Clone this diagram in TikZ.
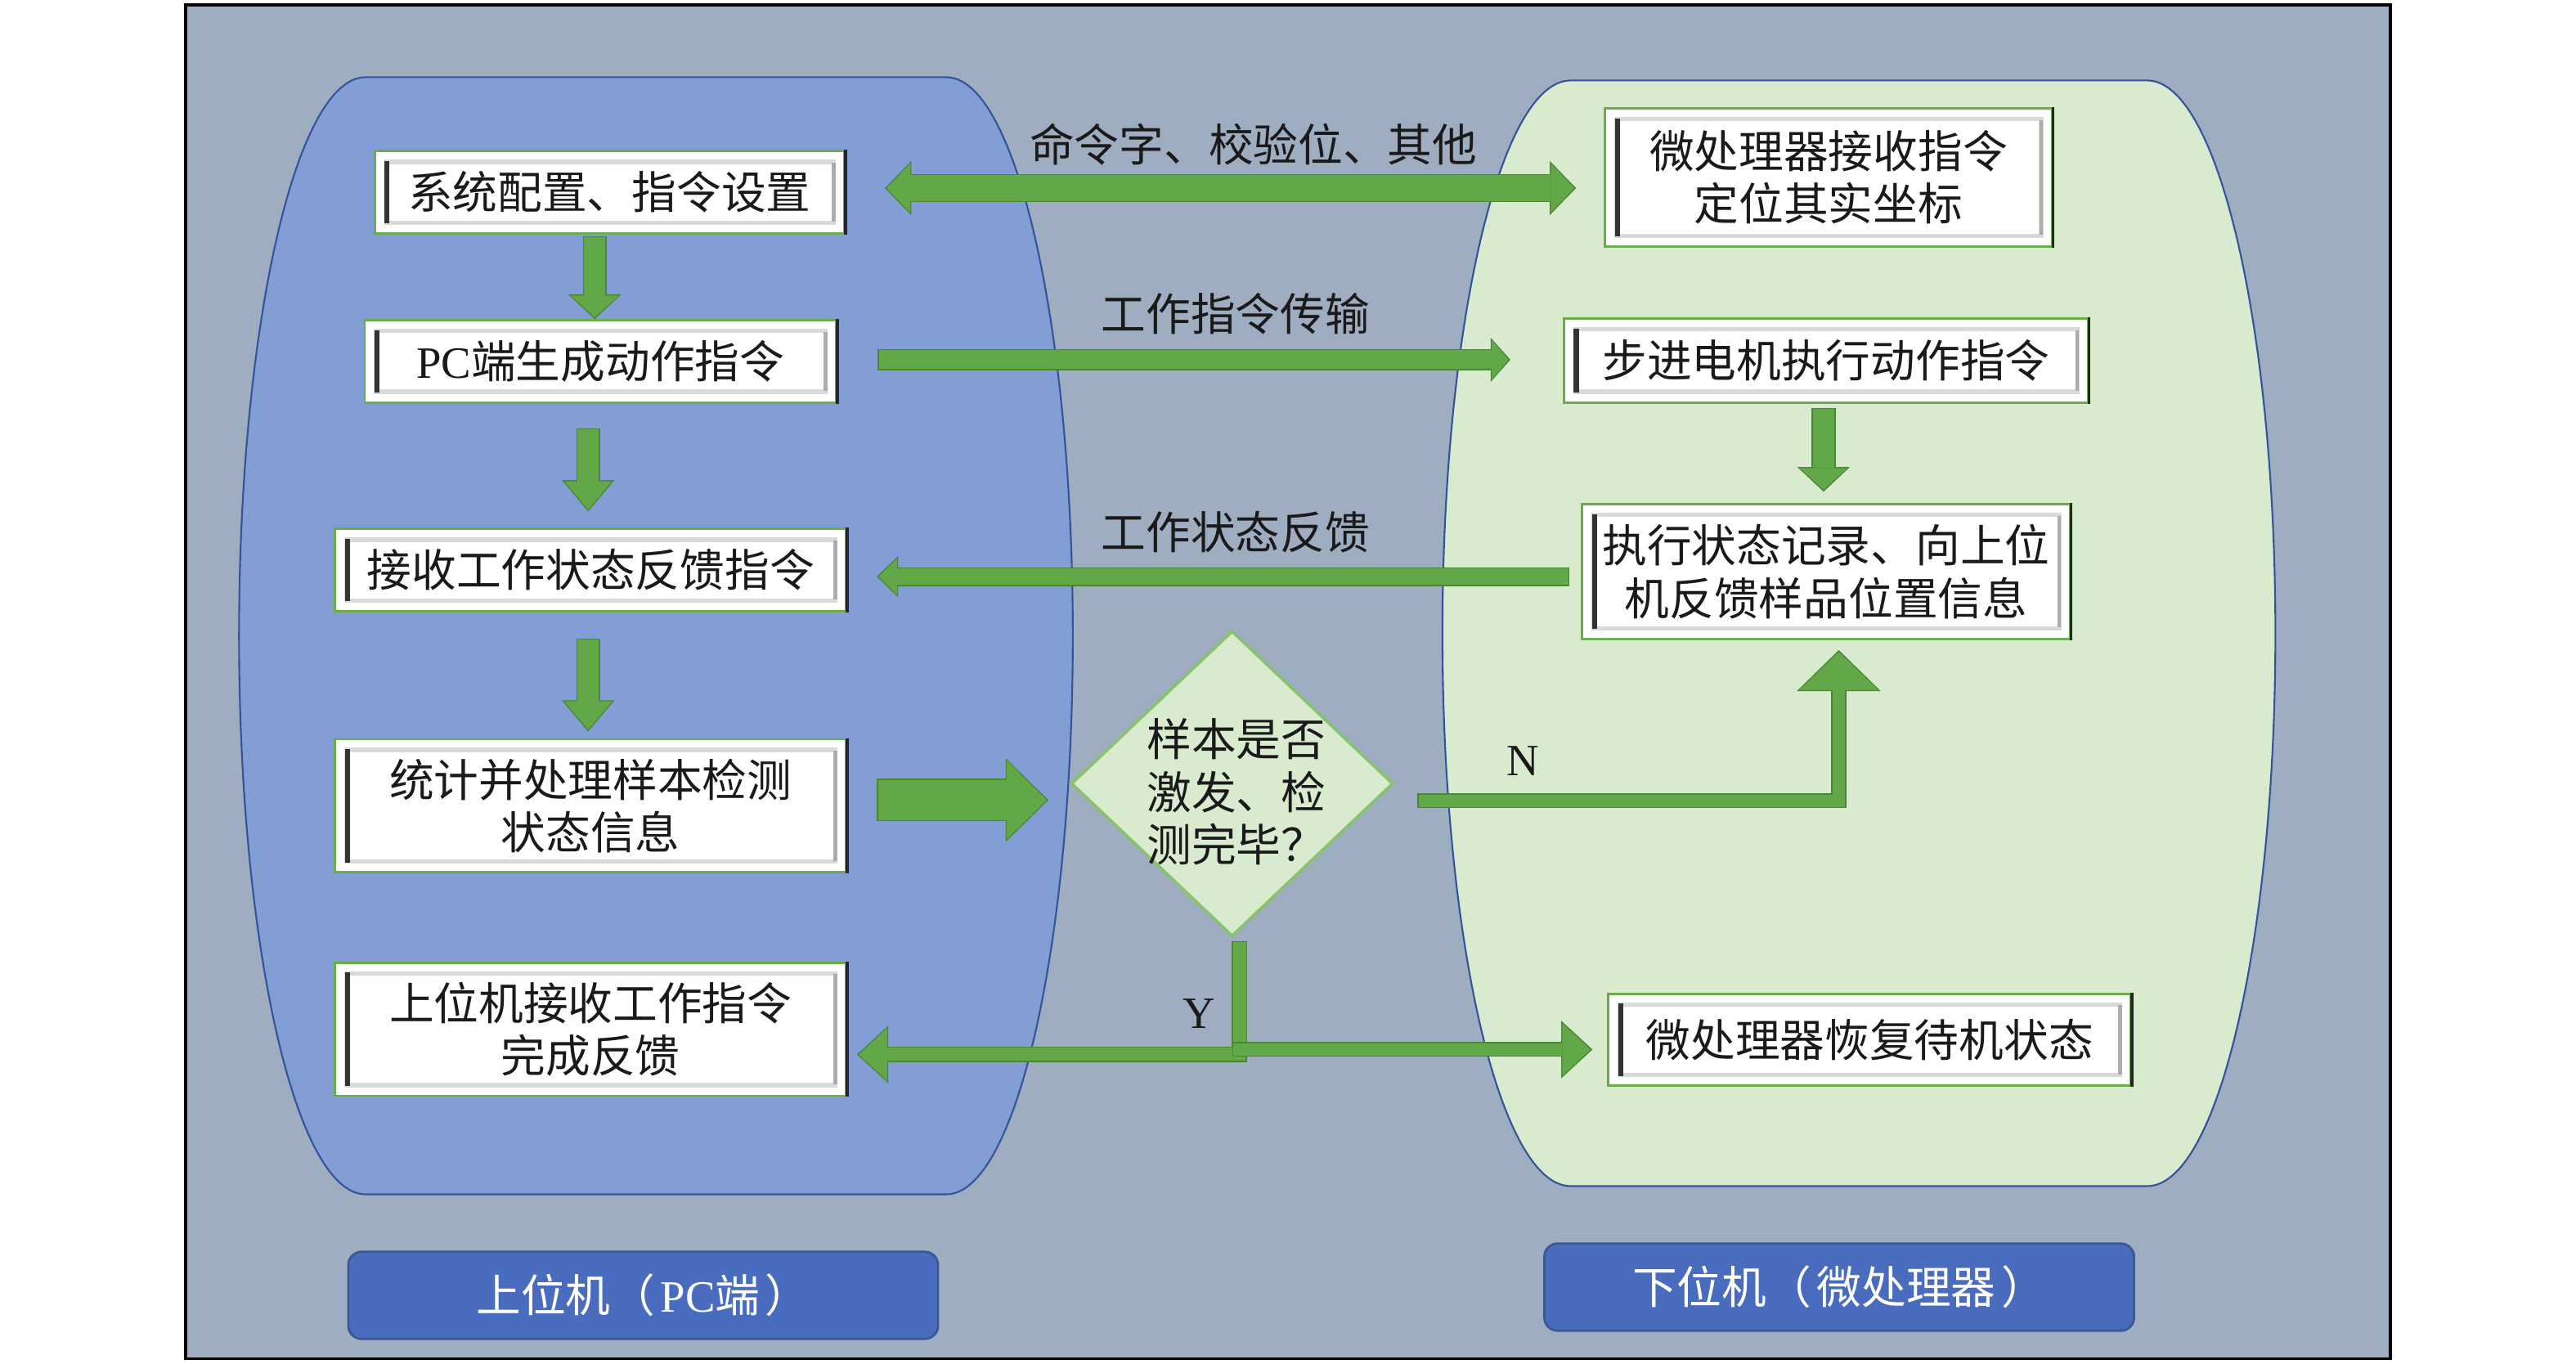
\documentclass[tikz,border=0pt]{standalone}
\usepackage{fontspec}
\setmainfont{Noto Sans CJK SC}
\newfontfamily\lat{Liberation Serif}
\usetikzlibrary{arrows.meta,shapes.geometric,calc}
\newcommand\myfs{\fontsize{15.5pt}{18.2pt}\selectfont}
\definecolor{bgc}{HTML}{9FADC0}
\definecolor{lblob}{HTML}{829ED5}
\definecolor{rblob}{HTML}{D9EBCF}
\definecolor{bline}{HTML}{34549A}
\definecolor{boxg}{HTML}{6AAE4C}
\definecolor{gfill}{HTML}{63A848}
\definecolor{gline}{HTML}{4B8536}
\definecolor{dgreen}{HTML}{86C36A}
\definecolor{labc}{HTML}{4A6CBF}
\definecolor{labline}{HTML}{3B5896}
\definecolor{txt}{HTML}{1A1A1A}
\tikzset{
  box/.style={draw=boxg, line width=0.8pt, fill=white, inner sep=0pt, align=center, font=\myfs, text=txt,
    path picture={
      \draw[line width=1.5pt, draw=gray!30]
        ([xshift=0.14cm,yshift=-0.13cm]path picture bounding box.north west) rectangle
        ([xshift=-0.13cm,yshift=0.13cm]path picture bounding box.south east);
      \draw[line width=1.8pt, draw=black!80]
        ([xshift=0.15cm,yshift=-0.12cm]path picture bounding box.north west) --
        ([xshift=0.15cm,yshift=0.12cm]path picture bounding box.south west);
      \draw[line width=1.2pt, draw=gray!65]
        ([xshift=-0.13cm,yshift=-0.14cm]path picture bounding box.north east) --
        ([xshift=-0.13cm,yshift=0.14cm]path picture bounding box.south east);
    }},
  lbl/.style={font=\myfs, text=txt, inner sep=1pt},
  labbox/.style={draw=labline, line width=0.8pt, fill=labc, rounded corners=0.16cm, text=white,
    font=\myfs, minimum width=7.18cm, minimum height=1.06cm, inner sep=0pt},
}
\newcommand\mkbox[5]{%
  \node[box, minimum width=#3cm, minimum height=#4cm] (#1) at (#2) {#5};
  \draw[line width=1pt, draw=black!85] (#1.north east) -- (#1.south east);}
% single-headed block arrow: shaft, head width, head length (cm), path
\newcommand\garr[4]{%
  \pgfmathsetlengthmacro\wi{#1cm-0.03cm}%
  \pgfmathsetlengthmacro\Wi{#2cm-0.06cm}%
  \pgfmathsetlengthmacro\Li{#3cm-0.035cm}%
  \draw[draw=gline, line width=#1cm, line join=miter,
    -{Triangle[width=#2cm,length=#3cm,line width=0pt]}] #4;
  \draw[draw=gfill, line width=\wi, line join=miter, shorten <=0.015cm, shorten >=0.022cm,
    -{Triangle[width=\Wi,length=\Li,line width=0pt]}] #4;}
% double-headed block arrow
\newcommand\garrd[4]{%
  \pgfmathsetlengthmacro\wi{#1cm-0.03cm}%
  \pgfmathsetlengthmacro\Wi{#2cm-0.06cm}%
  \pgfmathsetlengthmacro\Li{#3cm-0.035cm}%
  \draw[draw=gline, line width=#1cm,
    {Triangle[width=#2cm,length=#3cm,line width=0pt]}-{Triangle[width=#2cm,length=#3cm,line width=0pt]}] #4;
  \draw[draw=gfill, line width=\wi, shorten <=0.022cm, shorten >=0.022cm,
    {Triangle[width=\Wi,length=\Li,line width=0pt]}-{Triangle[width=\Wi,length=\Li,line width=0pt]}] #4;}
% plain bar
\newcommand\gbar[2]{%
  \pgfmathsetlengthmacro\wi{#1cm-0.03cm}%
  \draw[draw=gline, line width=#1cm] #2;
  \draw[draw=gfill, line width=\wi, shorten <=0.015cm, shorten >=0.015cm] #2;}
\begin{document}
\begin{tikzpicture}[x=0.02cm, y=-0.02cm]
\useasboundingbox (0,0) rectangle (1568,830);
\fill[white] (0,0) rectangle (1568,830);
% frame
\draw[line width=1pt, fill=bgc] (113,3) rectangle (1455,827);
% left blob
\draw[bline, line width=0.6pt, fill=lblob]
  (222.5,47) -- (576,47) .. controls (618.5,47) and (653,199.2) .. (653,387)
  .. controls (653,574.8) and (618.5,727) .. (576,727) -- (222.5,727)
  .. controls (180,727) and (145.5,574.8) .. (145.5,387)
  .. controls (145.5,199.2) and (180,47) .. (222.5,47) -- cycle;
% right blob
\draw[bline, line width=0.6pt, fill=rblob]
  (956,49) -- (1307,49) .. controls (1350.1,49) and (1385,199.7) .. (1385,385.5)
  .. controls (1385,571.3) and (1350.1,722) .. (1307,722) -- (956,722)
  .. controls (912.9,722) and (878,571.3) .. (878,385.5)
  .. controls (878,199.7) and (912.9,49) .. (956,49) -- cycle;
% bottom labels
\node[labbox] (lpc) at (391.5,788.5) {上位机（\hspace{0.12em}{\lat PC}端\hspace{0.12em}）};
\node[labbox] (lmc) at (1119.5,783.5) {下位机（\hspace{0.12em}微处理器\hspace{0.12em}）};
% boxes
\mkbox{b1}{371,117}{5.72}{1.0}{系统配置、指令设置}
\mkbox{b2}{365.5,220}{5.74}{1.0}{{\lat PC}端生成动作指令}
\mkbox{b3}{359.5,347}{6.22}{1.0}{接收工作状态反馈指令}
\mkbox{b4}{359.5,490.5}{6.22}{1.62}{统计并处理样本检测\\状态信息}
\mkbox{b5}{359.5,626.5}{6.22}{1.62}{上位机接收工作指令\\完成反馈}
\mkbox{r1}{1113,108}{5.44}{1.68}{微处理器接收指令\\定位其实坐标}
\mkbox{r2}{1111.5,219.5}{6.38}{1.02}{步进电机执行动作指令}
\mkbox{r3}{1111.5,348}{5.94}{1.64}{执行状态记录、向上位\\机反馈样品位置信息}
\mkbox{r4}{1138,633}{6.36}{1.12}{微处理器恢复待机状态}
% decision
\node[diamond, draw=dgreen, line width=1pt, fill=rblob, minimum width=3.92cm, minimum height=3.72cm, inner sep=0pt] (dm) at (750,477) {};
\node[font=\myfs, text=txt, align=left, inner sep=0pt] (dmt) at (752.5,482) {样本是否\\激发、检\\测完毕？};
% connector end points
\coordinate (a1s) at ($(b1.south)+(-9,1)$);
\coordinate (a2s) at ($(b2.south)+(-7.5,15)$);
\coordinate (a2e) at ($(b3.north)+(-1.5,-10)$);
\coordinate (a3s) at ($(b3.south)+(-1.5,16)$);
\coordinate (a3e) at ($(b4.north)+(-1.5,-4)$);
\coordinate (a4s) at ($(b4.east)+(18,-3.5)$);
\coordinate (a4e) at ($(a4s -| dm.west)+(-13,0)$);
\coordinate (a5s) at ($(b1.east)+(24,-2.5)$);
\coordinate (a5e) at ($(a5s -| r1.west)+(-17,0)$);
\coordinate (a6s) at ($(b2.east)+(24.6,-1)$);
\coordinate (a6e) at ($(a6s -| r2.west)+(-32,0)$);
\coordinate (a7s) at ($(r3.west)+(-7,3)$);
\coordinate (a7e) at ($(a7s -| b3.east)+(18,0)$);
\coordinate (a8s) at ($(dm.east)+(14,10.5)$);
\coordinate (a8e) at ($(r3.south)+(7.75,6)$);
\coordinate (a9s) at ($(dm.south)+(4.5,2)$);
\coordinate (a9c) at ($(a9s)+(0,69)$);
\coordinate (a9b) at ($(a9s)+(0,74)$);
\coordinate (a9l) at ($(a9c -| b5.east)+(6,0)$);
\coordinate (a9r) at ($(a9c -| r4.west)+(-9,-3)$);
\coordinate (a10s) at ($(r2.south)+(-1.5,2.5)$);
\coordinate (a10e) at ($(r3.north)+(-1.5,-7)$);
% arrows
\garr{0.29}{0.64}{0.30}{(a1s) -- (a1s |- b2.north)}
\garr{0.29}{0.64}{0.38}{(a2s) -- (a2e)}
\garr{0.29}{0.64}{0.38}{(a3s) -- (a3e)}
\garr{0.52}{1.02}{0.52}{(a4s) -- (a4e)}
\garrd{0.34}{0.66}{0.32}{(a5s) -- (a5e)}
\garr{0.26}{0.54}{0.24}{(a6s) -- (a6e)}
\garr{0.23}{0.50}{0.26}{(a7s) -- (a7e)}
\garr{0.18}{1.02}{0.50}{(a8s) -| (a8e)}
\gbar{0.19}{(a9s) -- (a9b)}
\garr{0.19}{0.70}{0.38}{($(a9c)+(4.5,0)$) -- (a9l)}
\garr{0.18}{0.70}{0.38}{($(a9c)+(-4.5,-3)$) -- (a9r)}
\garr{0.29}{0.64}{0.30}{(a10s) -- (a10e)}
% labels
\node[lbl] (t1) at (763,88) {命令字、校验位、其他};
\node[lbl] (t2) at (752,191) {工作指令传输};
\node[lbl] (t3) at (752,324) {工作状态反馈};
\node[lbl, font=\lat\myfs] (tn) at (927,463) {N};
\node[lbl, font=\lat\myfs] (ty) at (730,617) {Y};
\end{tikzpicture}
\end{document}
